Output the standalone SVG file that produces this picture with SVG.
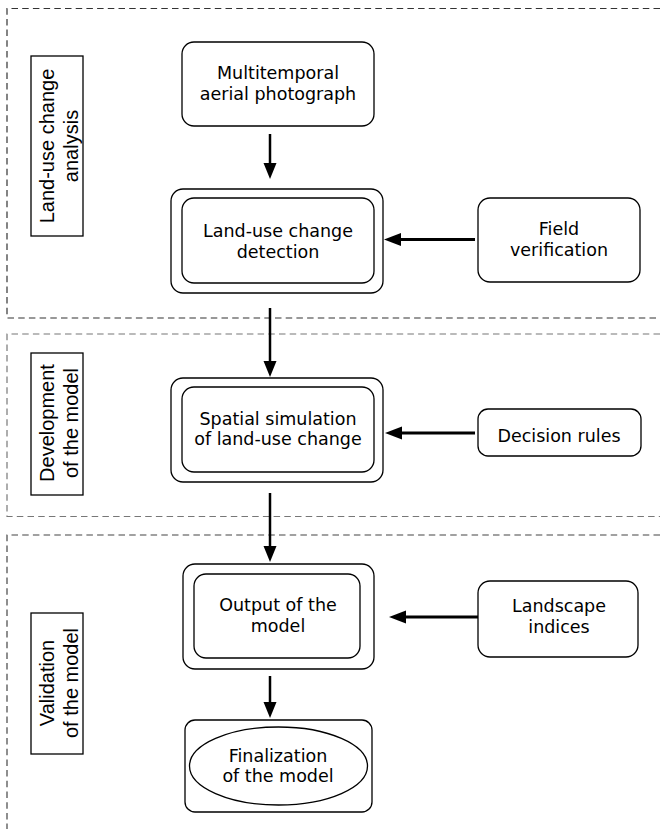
<svg xmlns="http://www.w3.org/2000/svg" width="660" height="829" viewBox="0 0 660 829">
<style>
.sec{fill:none;stroke-width:1.2;stroke-dasharray:6.5,4.2}
.box{fill:#fff;stroke:#000;stroke-width:1.3}
.lbl{fill:#fff;stroke:#000;stroke-width:1.3}
.nt{font-family:"DejaVu Sans","Liberation Sans",sans-serif;font-size:17.5px;fill:#000;text-anchor:middle}
.lt{font-family:"Liberation Sans",Arial,sans-serif;font-size:20px;fill:#000;text-anchor:middle}
.va{fill:none;stroke:#000;stroke-width:2.5}
.ha{fill:none;stroke:#000;stroke-width:3}
</style>
<defs>
<marker id="vh" markerUnits="userSpaceOnUse" markerWidth="17" markerHeight="14" refX="0" refY="7" orient="auto">
<path d="M0,0.5 L16,7 L0,13.5 z" fill="#000"/>
</marker>
<marker id="hh" markerUnits="userSpaceOnUse" markerWidth="18" markerHeight="14" refX="0" refY="7" orient="auto">
<path d="M0,0.5 L17,7 L0,13.5 z" fill="#000"/>
</marker>
</defs>
<g id="sections">
<path class="sec" stroke="#333" d="M660,8.5 H7 V318 H660"/>
<path class="sec" stroke="#777" d="M660,334 H7 V516.5 H660"/>
<path class="sec" stroke="#444" d="M660,535 H7 V829"/>
</g>
<g id="label-analysis">
<rect class="lbl" x="31" y="56" width="52" height="180"/>
<text class="lt" transform="translate(0,146) rotate(-90)"><tspan x="0" y="54">Land-use change</tspan><tspan x="0" y="78">analysis</tspan></text>
</g>
<g id="label-development">
<rect class="lbl" x="31" y="353" width="52" height="142"/>
<text class="lt" transform="translate(0,423) rotate(-90)"><tspan x="0" y="54">Development</tspan><tspan x="0" y="78">of the model</tspan></text>
</g>
<g id="label-validation">
<rect class="lbl" x="31" y="613" width="52" height="141"/>
<text class="lt" transform="translate(0,683) rotate(-90)"><tspan x="0" y="54">Validation</tspan><tspan x="0" y="78">of the model</tspan></text>
</g>
<g id="multitemporal">
<rect class="box" x="182" y="42" width="192" height="84" rx="12"/>
<text class="nt"><tspan x="278" y="79">Multitemporal</tspan><tspan x="278" y="99.5">aerial photograph</tspan></text>
</g>
<g id="detection">
<rect class="box" x="171" y="189" width="212" height="104" rx="12"/>
<rect class="box" x="182" y="198" width="192" height="85" rx="12"/>
<text class="nt"><tspan x="278" y="237">Land-use change</tspan><tspan x="278" y="258">detection</tspan></text>
</g>
<g id="field">
<rect class="box" x="478" y="198" width="162" height="84" rx="12"/>
<text class="nt"><tspan x="559" y="235">Field</tspan><tspan x="559" y="256">verification</tspan></text>
</g>
<g id="simulation">
<rect class="box" x="171" y="378" width="212" height="104" rx="12"/>
<rect class="box" x="182" y="387" width="192" height="85" rx="12"/>
<text class="nt"><tspan x="278" y="425">Spatial simulation</tspan><tspan x="278" y="445">of land-use change</tspan></text>
</g>
<g id="decision">
<rect class="box" x="478" y="409" width="163" height="47" rx="10"/>
<text class="nt" x="559" y="441.5">Decision rules</text>
</g>
<g id="output">
<rect class="box" x="183" y="564" width="191" height="105" rx="12"/>
<rect class="box" x="194" y="574" width="166" height="84" rx="12"/>
<text class="nt"><tspan x="278" y="611">Output of the</tspan><tspan x="278" y="632">model</tspan></text>
</g>
<g id="landscape">
<rect class="box" x="478" y="581" width="160" height="76" rx="12"/>
<text class="nt"><tspan x="559" y="612">Landscape</tspan><tspan x="559" y="633">indices</tspan></text>
</g>
<g id="finalization">
<rect class="box" x="185" y="720" width="187" height="92" rx="10"/>
<ellipse class="box" cx="278.5" cy="766" rx="89" ry="39"/>
<text class="nt"><tspan x="278" y="762">Finalization</tspan><tspan x="278" y="782">of the model</tspan></text>
</g>
<g id="connectors">
<path class="va" d="M270,134 V163" marker-end="url(#vh)"/>
<path class="va" d="M270,308 V361" marker-end="url(#vh)"/>
<path class="va" d="M270,493 V546" marker-end="url(#vh)"/>
<path class="va" d="M270,676 V702" marker-end="url(#vh)"/>
<path class="ha" d="M475,239.5 H401" marker-end="url(#hh)"/>
<path class="ha" d="M475,433 H402" marker-end="url(#hh)"/>
<path class="ha" d="M478,617 H406" marker-end="url(#hh)"/>
</g>
</svg>
